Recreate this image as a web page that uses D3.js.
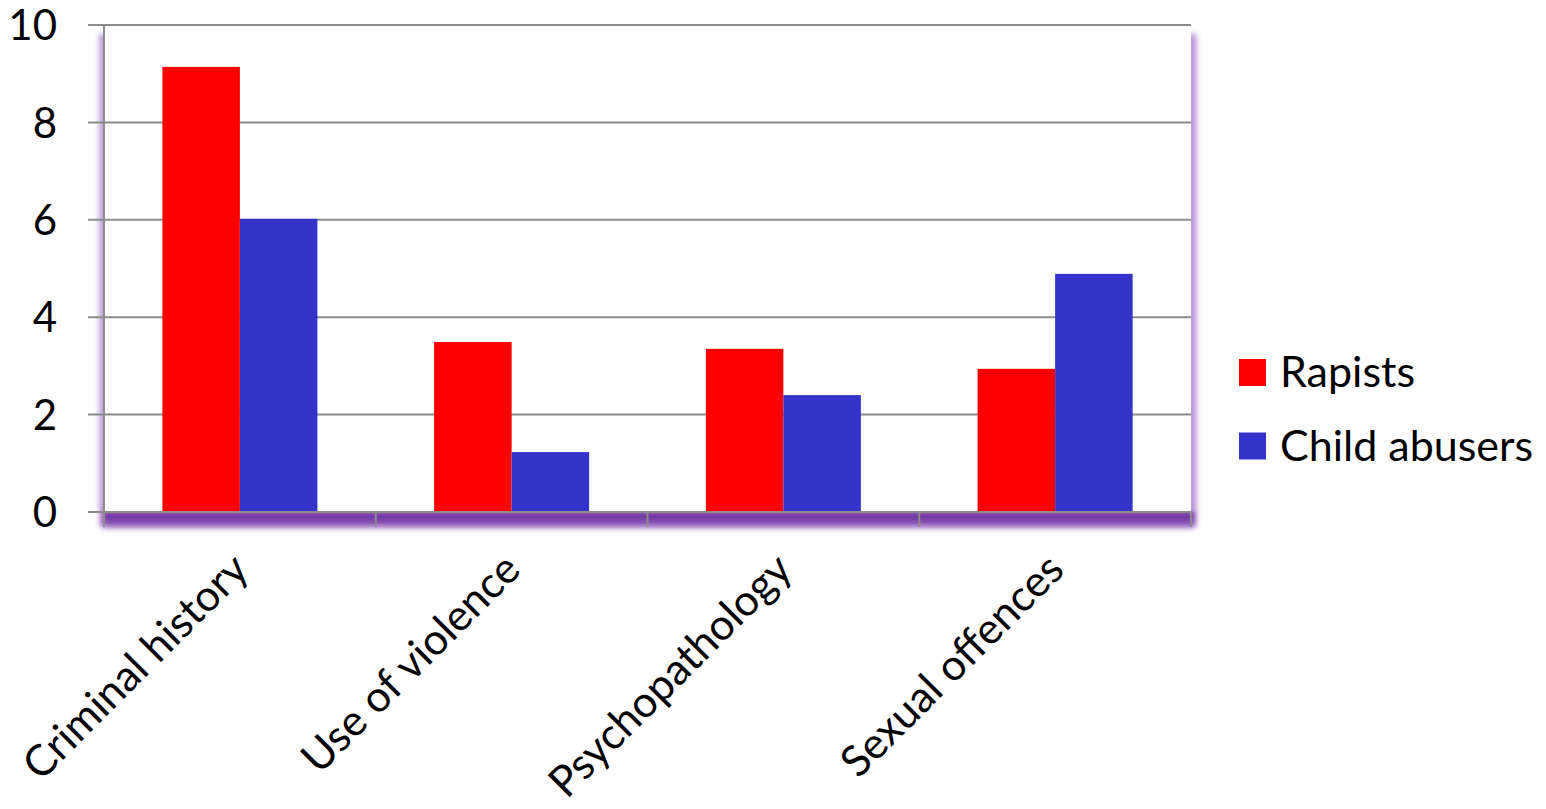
<!DOCTYPE html>
<html>
<head>
<meta charset="utf-8">
<script src="https://cdn.jsdelivr.net/npm/d3@7"></script>
<style>
  html, body { margin: 0; padding: 0; background: #ffffff; }
  svg { display: block; }
  text { font-family: Lato, "Open Sans", sans-serif; fill: #000; }
</style>
</head>
<body>
<svg id="chart" width="1546" height="809"></svg>
<script>
const categories = ["Criminal history", "Use of violence", "Psychopathology", "Sexual offences"];
const seriesNames = ["Rapists", "Child abusers"];
const rapists = [9.14, 3.49, 3.35, 2.94];
const childAbusers = [6.02, 1.23, 2.40, 4.89];
const yTicks = [0, 2, 4, 6, 8, 10];
const colors = ["#ff0000", "#3333cc"];

const svg = d3.select("#chart");
const pLeft = 104, pRight = 1191, pTop = 25, pBottom = 512;

const x = d3.scaleBand().domain(categories).range([pLeft, pRight]).paddingInner(0).paddingOuter(0);
const x1 = d3.scaleBand().domain(seriesNames).range([0, x.bandwidth()]).paddingOuter(0.753).paddingInner(0);
const y = d3.scaleLinear().domain([0, 10]).range([pBottom, pTop]);

const defs = svg.append("defs");
const blur = defs.append("filter").attr("id", "blur").attr("x", "-10%").attr("y", "-10%").attr("width", "120%").attr("height", "130%");
blur.append("feGaussianBlur").attr("stdDeviation", 2.5);
const blur2 = defs.append("filter").attr("id", "blur2").attr("x", "-10%").attr("y", "-50%").attr("width", "120%").attr("height", "200%");
blur2.append("feGaussianBlur").attr("stdDeviation", 2.5);
const grad = defs.append("linearGradient").attr("id", "floor").attr("x1", 0).attr("y1", 0).attr("x2", 0).attr("y2", 1);
grad.append("stop").attr("offset", "0%").attr("stop-color", "#6a2c9c").attr("stop-opacity", 1);
grad.append("stop").attr("offset", "50%").attr("stop-color", "#7a3aa8").attr("stop-opacity", 0.9);
grad.append("stop").attr("offset", "100%").attr("stop-color", "#b090d0").attr("stop-opacity", 0);

// shadow glow
svg.append("rect").attr("x", pLeft - 5).attr("y", pTop + 9).attr("width", pRight - pLeft + 11).attr("height", pBottom - pTop + 6)
  .attr("fill", "#bf9edb").attr("filter", "url(#blur)");
svg.append("rect").attr("x", pLeft - 1).attr("y", pBottom).attr("width", pRight - pLeft + 4).attr("height", 20)
  .attr("fill", "url(#floor)").attr("filter", "url(#blur2)");
// plot area
svg.append("rect").attr("x", pLeft).attr("y", pTop).attr("width", pRight - pLeft).attr("height", pBottom - pTop).attr("fill", "#ffffff");

// gridlines
svg.append("g").selectAll("line").data(yTicks).join("line")
  .attr("x1", pLeft - 16).attr("x2", pRight).attr("y1", d => y(d)).attr("y2", d => y(d))
  .attr("stroke", "#8c8c8c").attr("stroke-width", 2);

// bars
const groups = svg.append("g").selectAll("g").data(categories).join("g")
  .attr("transform", d => `translate(${x(d)},0)`);
groups.selectAll("rect").data((d, i) => [rapists[i], childAbusers[i]].map((v, j) => ({ key: seriesNames[j], v, j })))
  .join("rect")
  .attr("x", d => x1(d.key)).attr("width", x1.bandwidth())
  .attr("y", d => y(d.v)).attr("height", d => y(0) - y(d.v))
  .attr("fill", d => colors[d.j]);

// y axis line
svg.append("line").attr("x1", pLeft).attr("x2", pLeft).attr("y1", pTop).attr("y2", pBottom + 15)
  .attr("stroke", "#8c8c8c").attr("stroke-width", 2);
// x axis line
svg.append("line").attr("x1", pLeft).attr("x2", pRight).attr("y1", pBottom).attr("y2", pBottom)
  .attr("stroke", "#8c8c8c").attr("stroke-width", 2);
// x ticks at boundaries
const bounds = categories.map(c => x(c)).concat([x(categories[categories.length - 1]) + x.bandwidth()]);
svg.append("g").selectAll("line").data(bounds).join("line")
  .attr("x1", d => d).attr("x2", d => d).attr("y1", pBottom).attr("y2", pBottom + 15)
  .attr("stroke", "#8c8c8c").attr("stroke-width", 2);

// y tick labels
svg.append("g").selectAll("text").data(yTicks).join("text")
  .attr("x", 57).attr("y", d => y(d)).attr("dy", "0.36em")
  .attr("text-anchor", "end").attr("font-size", 42).text(d => d);

// category labels
svg.append("g").selectAll("text").data(categories).join("text")
  .attr("transform", d => `translate(${x(d) + x.bandwidth() / 2 + 11},${pBottom + 60}) rotate(-45)`)
  .attr("text-anchor", "end").attr("font-size", 43).text(d => d);

// legend
const leg = svg.append("g").selectAll("g").data(seriesNames).join("g")
  .attr("transform", (d, i) => `translate(1239,${359 + i * 73.5})`);
leg.append("rect").attr("width", 27).attr("height", 27).attr("fill", (d, i) => colors[i]);
leg.append("text").attr("x", 41).attr("y", 28).attr("font-size", 43).text(d => d);
</script>
</body>
</html>
